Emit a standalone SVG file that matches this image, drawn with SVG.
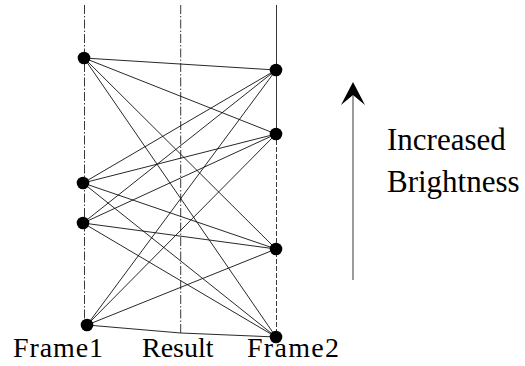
<svg xmlns="http://www.w3.org/2000/svg" width="525" height="366" viewBox="0 0 525 366">
<style>
.edge{stroke:#111;stroke-width:0.9;fill:none}
.axis{stroke:#222;stroke-width:0.9;fill:none}
.dd{stroke-dasharray:9 2 1.5 2}
.dash{stroke-dasharray:5 2}
.node{fill:#000}
text{font-family:"Liberation Serif","Times New Roman",serif;fill:#000}
</style>
<rect width="525" height="366" fill="#fff"/>
<g id="axes">
<line class="axis dd" x1="84.5" y1="5" x2="84.5" y2="325"/>
<line class="axis dd" x1="180.7" y1="5" x2="180.7" y2="333"/>
<line class="axis" x1="276.5" y1="5" x2="276.5" y2="140"/>
<line class="axis dash" x1="276.5" y1="140" x2="276.5" y2="337"/>
</g>
<g id="connectors">
<line class="edge" x1="84" y1="58" x2="276" y2="70"/>
<line class="edge" x1="84" y1="58" x2="276" y2="134"/>
<line class="edge" x1="84" y1="58" x2="276" y2="249"/>
<line class="edge" x1="84" y1="58" x2="276" y2="337"/>
<line class="edge" x1="83" y1="183" x2="276" y2="70"/>
<line class="edge" x1="83" y1="183" x2="276" y2="134"/>
<line class="edge" x1="83" y1="183" x2="276" y2="249"/>
<line class="edge" x1="83" y1="183" x2="276" y2="337"/>
<line class="edge" x1="83" y1="223" x2="276" y2="70"/>
<line class="edge" x1="83" y1="223" x2="276" y2="134"/>
<line class="edge" x1="83" y1="223" x2="276" y2="249"/>
<line class="edge" x1="83" y1="223" x2="276" y2="337"/>
<line class="edge" x1="87" y1="325" x2="276" y2="70"/>
<line class="edge" x1="87" y1="325" x2="276" y2="134"/>
<line class="edge" x1="87" y1="325" x2="276" y2="249"/>
<polyline class="edge" points="87,325 180.7,333 276,337"/>
</g>
<g id="frame1-nodes">
<circle class="node" cx="84" cy="58" r="6.3"/>
<circle class="node" cx="83" cy="183" r="6.3"/>
<circle class="node" cx="83" cy="223" r="6.3"/>
<circle class="node" cx="87" cy="325" r="6.3"/>
</g>
<g id="frame2-nodes">
<circle class="node" cx="276" cy="70" r="6.3"/>
<circle class="node" cx="276" cy="134" r="6.3"/>
<circle class="node" cx="276" cy="249" r="6.3"/>
<circle class="node" cx="276" cy="337" r="6.3"/>
</g>
<g id="brightness-arrow">
<line class="axis" x1="353" y1="280" x2="353" y2="92"/>
<polygon points="353,82 365,105 353,95 341,105" fill="#000"/>
</g>
<g id="labels">
<text x="13" y="357" font-size="28" textLength="90" lengthAdjust="spacing">Frame1</text>
<text x="142" y="357" font-size="28">Result</text>
<text x="247" y="357" font-size="28" textLength="92" lengthAdjust="spacing">Frame2</text>
<text x="387" y="150" font-size="31">Increased</text>
<text x="387" y="192" font-size="31">Brightness</text>
</g>
</svg>
